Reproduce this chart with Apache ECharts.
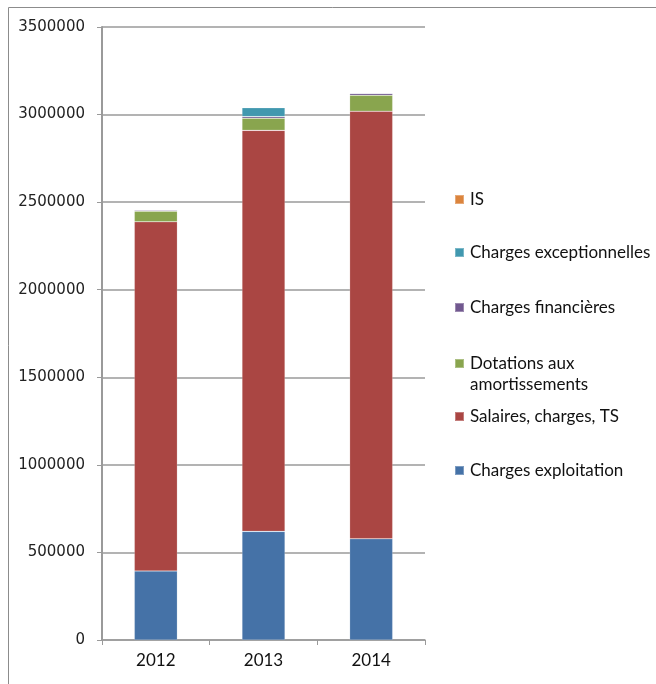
<!DOCTYPE html>
<html>
<head>
<meta charset="utf-8">
<script src="https://cdn.jsdelivr.net/npm/echarts@6/dist/echarts.min.js"></script>
<style>
  html, body { margin: 0; padding: 0; background: #fff; }
  #chart { width: 656px; height: 684px; }
</style>
</head>
<body>
<div id="chart"></div>
<script>
// années
var years = ["2012", "2013", "2014"];
// valeurs de chaque poste
var chargesExploitation = [394000, 620000, 578000];
var salaires = [1994000, 2290000, 2441000];
var dotations = [61000, 69000, 91000];
var chargesFinancieres = [6000, 9000, 11000];
var chargesExceptionnelles = [0, 51000, 0];
var impots = [0, 3000, 0];
var yTicks = [0, 500000, 1000000, 1500000, 2000000, 2500000, 3000000, 3500000];

var names = ["Charges exploitation", "Salaires, charges, TS", "Dotations aux amortissements",
  "Charges financières", "Charges exceptionnelles", "IS"];
var colors = ["#4572A7", "#AA4643", "#89A54E", "#71588F", "#4198AF", "#DB843D"];
var values = [chargesExploitation, salaires, dotations, chargesFinancieres, chargesExceptionnelles, impots];

var chart = echarts.init(document.getElementById("chart"));

// une légende par entrée pour placer chaque ligne comme dans l'original
// (pour "Dotations", une ligne vide au-dessus met le carré au niveau de "Dotations aux")
var legendTops = [455, 401, 327, 292, 237, 184];
var legends = names.map(function (n, i) {
  var twoLines = n === "Dotations aux amortissements";
  return {
    data: [n],
    left: 449,
    top: legendTops[i],
    orient: "vertical",
    icon: "rect",
    itemWidth: 9,
    itemHeight: 9,
    itemGap: 0,
    selectedMode: false,
    formatter: function (name) {
      return twoLines ? " \nDotations aux\namortissements" : name;
    },
    textStyle: { fontFamily: "Lato", fontSize: 17, color: "#111", lineHeight: 21, padding: [0, 0, 0, 1] }
  };
});

var option = {
  animation: false,
  color: colors,
  graphic: [{
    type: "polyline",
    shape: { points: [[8.5, 684], [8.5, 7.5], [656, 7.5]] },
    style: { stroke: "#8c8c8c", lineWidth: 1, fill: null }
  }],
  legend: legends,
  grid: { left: 102, right: 231, top: 27, bottom: 44 },
  xAxis: {
    type: "category",
    data: years,
    axisLine: { lineStyle: { color: "#9a9a9a", width: 1.5 } },
    axisTick: { show: true, length: 5, lineStyle: { color: "#9a9a9a" } },
    axisLabel: { fontFamily: "Lato", fontSize: 17, color: "#111", margin: 12 }
  },
  yAxis: {
    type: "value",
    min: yTicks[0],
    max: yTicks[yTicks.length - 1],
    interval: yTicks[1] - yTicks[0],
    axisLine: { show: true, lineStyle: { color: "#9a9a9a", width: 2 } },
    axisTick: { show: true, length: 5, lineStyle: { color: "#9a9a9a" } },
    splitLine: { lineStyle: { color: "#9a9a9a", width: 1.5 } },
    axisLabel: {
      fontFamily: "DejaVu Sans", fontSize: 15, color: "#222", margin: 17,
      formatter: function (v) { return String(v); }
    }
  },
  series: names.map(function (n, i) {
    return {
      name: n,
      type: "bar",
      stack: "total",
      barWidth: "40%",
      data: values[i],
      itemStyle: { color: colors[i], borderColor: "rgba(255,255,255,0.3)", borderWidth: 0.6 }
    };
  })
};

option && chart.setOption(option);
</script>
</body>
</html>
